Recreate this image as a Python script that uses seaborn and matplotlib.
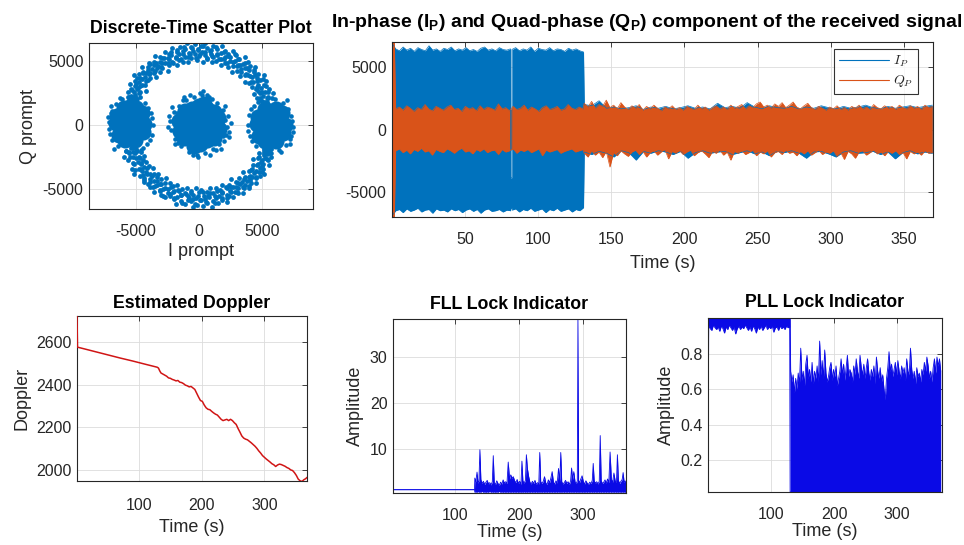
import numpy as np
import pandas as pd
import matplotlib
matplotlib.use("Agg")
import matplotlib.pyplot as plt
from matplotlib.lines import Line2D
from matplotlib.font_manager import FontProperties
import seaborn as sns

# ------------------------------------------------------------------ data
# Prompt correlator scatter: dense central cloud, two side clusters, ring
centre_core = [(0, 0), (650, 80), (-620, -60), (300, 600), (-340, 620), (310, -610), (-300, -640),
               (1250, 120), (-1250, -90), (1000, 780), (-980, 800), (980, -820), (-1000, -760),
               (600, 1200), (-600, 1220), (620, -1210), (-580, -1230), (0, 1500), (40, -1520),
               (1550, -300), (-1560, 330), (1500, 500), (-1480, -520), (1150, -1050), (-1150, 1050),
               (1150, 1020), (-1200, -1010), (350, 1650), (-400, -1640)]
centre_edge = [(2050, 400), (2200, -150), (1900, -900), (1600, -1500), (1100, -1900), (500, -2200),
               (-200, -2350), (-800, -2100), (-1400, -1700), (-1900, -1100), (-2200, -400), (-2300, 300),
               (-2000, 1000), (-1600, 1500), (-1000, 1950), (-400, 2200), (200, 2350), (800, 2150),
               (1400, 1700), (1850, 1150), (2300, 700), (2400, -600), (1300, -2000), (-1900, -1500),
               (300, 2650), (-2450, -200), (2500, 100), (-100, -2500), (1700, -1900), (-1200, 2150),
               (900, -2350), (-2150, 1400), (2050, 1500), (1750, 1050), (-700, 2300), (600, 2300),
               (-1650, -1450), (2150, -800), (-2350, 700), (1000, 2000), (-500, -2400), (1950, -1300),
               (-1300, 1900), (100, 2500), (-1750, 900), (2350, -1000)]
left_core = [(-5450, 50), (-4850, 350), (-6050, -250), (-5450, 800), (-5450, -700), (-4800, -550),
             (-6100, 700), (-4350, 50), (-6550, 100), (-5000, 1300), (-5900, 1300), (-5050, -1230),
             (-5870, -1210), (-4550, 950), (-6350, -830), (-4450, -600), (-6450, 650)]
left_edge = [(-7150, 200), (-7050, -700), (-6900, 1100), (-6600, 1600), (-6100, 2000), (-5500, 2200),
             (-4900, 2050), (-4300, 1700), (-3800, 900), (-3650, 0), (-3750, -800), (-4100, -1500),
             (-4600, -1950), (-5200, -2100), (-5800, -2050), (-6400, -1700), (-6850, -1200), (-7100, -300),
             (-7200, 600), (-6950, 1500), (-4000, 1300), (-3900, -1200), (-6700, -1900), (-5050, 2150),
             (-6250, 2100), (-4450, -1800), (-7000, 900), (-3700, 500)]
right_core = [(5650, 0), (6250, 300), (5050, -300), (5650, 750), (5650, -750), (6300, -600),
              (5000, 650), (6750, 0), (4550, 50), (6100, 1250), (5200, 1250), (6050, -1280),
              (5230, -1260), (6550, 900), (4750, -880), (6650, -650), (4650, 600)]
right_edge = [(7400, -200), (7300, 700), (7150, -1100), (6850, -1600), (6300, -2000), (5700, -2200),
              (5100, -2050), (4500, -1700), (4000, -900), (3850, 0), (3950, 800), (4300, 1500),
              (4800, 1950), (5400, 2100), (6000, 2050), (6600, 1700), (7050, 1200), (7350, 300),
              (7450, -600), (7200, -1500), (4200, -1300), (4100, 1200), (6950, 1900), (5250, -2150),
              (6450, -2100), (4650, 1800), (7250, -900), (3900, -500)]
# ring samples as (angle in degrees, radius)
ring_upper = [
    (18.4, 5650), (19.6, 6150), (20.9, 5300), (21.7, 5900), (22.8, 6350), (23.9, 5500), (24.6, 5050), (25.8, 5800), (26.9, 6200), (27.5, 5450),
    (28.7, 4950), (29.8, 6050), (30.6, 5700), (31.9, 5250), (32.8, 6300), (33.6, 5600), (34.9, 5100), (35.7, 5950), (36.8, 6450), (37.9, 5400),
    (38.6, 5850), (39.8, 5150), (40.7, 6150), (41.9, 5650), (42.6, 4900), (43.8, 6000), (44.9, 5500), (45.7, 6350), (46.8, 5300), (47.6, 5800),
    (48.9, 6100), (49.7, 5000), (50.8, 5700), (51.9, 6250), (52.7, 5450), (53.8, 5900), (54.6, 5150), (55.9, 6400), (56.8, 5600), (57.7, 4850),
    (58.9, 6050), (59.8, 5350), (60.6, 5750), (61.9, 6200), (62.7, 5050), (63.8, 5550), (64.9, 6350), (65.7, 5850), (66.8, 5250), (67.6, 6000),
    (68.9, 5650), (69.8, 4950), (70.7, 6150), (71.9, 5450), (72.8, 5900), (73.6, 6450), (74.9, 5200), (75.7, 5750), (76.8, 6100), (77.9, 5400),
    (78.7, 5000), (79.8, 6300), (80.6, 5600), (81.9, 5850), (82.7, 5150), (83.8, 6050), (84.9, 5500), (85.7, 6400), (86.8, 4900), (87.6, 5700),
    (88.9, 6200), (89.8, 5350), (90.7, 5950), (91.9, 5050), (92.8, 6350), (93.6, 5550), (94.9, 5800), (95.7, 6100), (96.8, 5250), (97.9, 5650),
    (98.7, 6450), (99.8, 4950), (100.6, 6000), (101.9, 5450), (102.7, 5900), (103.8, 6250), (104.9, 5100), (105.7, 5750), (106.8, 6150), (107.6, 5350),
    (108.9, 5600), (109.8, 6350), (110.7, 5000), (111.9, 5850), (112.8, 6050), (113.6, 5400), (114.9, 5700), (115.7, 6300), (116.8, 5200), (117.9, 5950),
    (118.7, 5550), (119.8, 6150), (120.6, 4900), (121.9, 5800), (122.7, 6400), (123.8, 5450), (124.9, 5650), (125.7, 6050), (126.8, 5150), (127.6, 5900),
    (128.9, 6250), (129.8, 5500), (130.7, 5750), (131.9, 6100), (132.8, 5050), (133.6, 5600), (134.9, 6350), (135.7, 5850), (136.8, 5300), (137.9, 6000),
    (138.7, 5700), (139.8, 6200), (140.6, 5400), (141.9, 5950), (142.7, 6450), (143.8, 5250), (144.9, 5800), (145.7, 6100), (146.8, 5550), (147.6, 5000),
    (148.9, 5900), (149.8, 6300), (150.7, 5650), (151.9, 5350), (152.8, 6050), (153.6, 5750), (154.9, 5200), (155.7, 6150), (156.8, 5500), (157.9, 5850),
    (158.7, 6000), (159.8, 5450), (160.6, 5700), (161.9, 5950),
    (19.1, 5500), (21.3, 5850), (23.2, 5250), (25.2, 6000), (27.0, 5600), (29.1, 5350), (31.2, 5950), (33.1, 5450), (35.3, 6150), (37.2, 5700),
    (39.1, 5300), (41.2, 5900), (43.3, 5550), (45.1, 6100), (47.2, 5400), (49.3, 5850), (51.2, 5250), (53.1, 6050), (55.2, 5700), (57.1, 5450),
    (59.3, 5950), (61.2, 5600), (63.1, 6200), (65.3, 5300), (67.2, 5800), (69.1, 5500), (71.3, 6050), (73.2, 5350), (75.1, 5650), (77.3, 6250),
    (79.2, 5450), (81.1, 5900), (83.3, 5300), (85.2, 5750), (87.1, 6150), (89.3, 5500), (91.2, 5850), (93.1, 5250), (95.3, 6050), (97.2, 5600),
    (99.1, 5400), (101.3, 6200), (103.2, 5650), (105.1, 5350), (107.3, 5950), (109.2, 5550), (111.1, 6100), (113.3, 5250), (115.2, 5800), (117.1, 5450),
    (119.3, 6000), (121.2, 5650), (123.1, 5300), (125.3, 5900), (127.2, 5550), (129.1, 6150), (131.3, 5400), (133.2, 5850), (135.1, 5600), (137.3, 6050),
    (139.2, 5350), (141.1, 5750), (143.3, 6100), (145.2, 5500), (147.1, 5900), (149.3, 5650), (151.2, 5300), (153.1, 5950), (155.3, 5600), (157.2, 5800),
    (159.1, 5550), (161.3, 5850)]
ring_lower = [
    (198.3, 5700), (199.5, 6100), (200.8, 5350), (201.6, 5950), (202.9, 6400), (203.7, 5500), (204.8, 5100), (205.9, 5850), (206.6, 6250), (207.8, 5400),
    (208.9, 5000), (209.7, 6000), (210.8, 5650), (211.6, 5250), (212.9, 6350), (213.8, 5550), (214.7, 5150), (215.9, 5900), (216.8, 6450), (217.6, 5450),
    (218.9, 5800), (219.7, 5100), (220.8, 6200), (221.9, 5600), (222.7, 4950), (223.6, 6050), (224.9, 5450), (225.8, 6300), (226.7, 5250), (227.9, 5750),
    (228.8, 6150), (229.6, 5050), (230.9, 5650), (231.7, 6200), (232.8, 5500), (233.9, 5950), (234.7, 5200), (235.8, 6400), (236.6, 5550), (237.9, 4900),
    (238.8, 6000), (239.7, 5300), (240.9, 5800), (241.6, 6250), (242.8, 5100), (243.9, 5600), (244.7, 6300), (245.8, 5900), (246.9, 5200), (247.7, 6050),
    (248.6, 5700), (249.8, 5000), (250.9, 6100), (251.7, 5400), (252.8, 5950), (253.6, 6500), (254.9, 5250), (255.8, 5700), (256.7, 6150), (257.9, 5450),
    (258.8, 5050), (259.6, 6350), (260.9, 5650), (261.7, 5800), (262.8, 5200), (263.9, 6000), (264.7, 5550), (265.6, 6450), (266.9, 4950), (267.8, 5750),
    (268.7, 6250), (269.9, 5300), (270.6, 5900), (271.8, 5100), (272.9, 6400), (273.7, 5600), (274.8, 5850), (275.6, 6150), (276.9, 5300), (277.8, 5700),
    (278.7, 6500), (279.9, 5000), (280.6, 6050), (281.8, 5500), (282.9, 5850), (283.7, 6300), (284.8, 5150), (285.6, 5800), (286.9, 6200), (287.8, 5400),
    (288.7, 5650), (289.9, 6400), (290.6, 5050), (291.8, 5900), (292.9, 6100), (293.7, 5450), (294.8, 5750), (295.6, 6250), (296.9, 5250), (297.8, 6000),
    (298.7, 5600), (299.9, 6200), (300.6, 4950), (301.8, 5850), (302.9, 6350), (303.7, 5500), (304.8, 5700), (305.6, 6100), (306.9, 5200), (307.8, 5950),
    (308.7, 6300), (309.9, 5550), (310.6, 5800), (311.8, 6150), (312.9, 5100), (313.7, 5650), (314.8, 6400), (315.6, 5900), (316.9, 5350), (317.8, 6050),
    (318.7, 5750), (319.9, 6250), (320.6, 5450), (321.8, 6000), (322.9, 6400), (323.7, 5300), (324.8, 5850), (325.6, 6150), (326.9, 5600), (327.8, 5050),
    (328.7, 5950), (329.9, 6350), (330.6, 5700), (331.8, 5400), (332.9, 6100), (333.7, 5800), (334.8, 5250), (335.6, 6200), (336.9, 5550), (337.8, 5900),
    (338.7, 6050), (339.9, 5500), (340.6, 5750), (341.8, 6000),
    (199.1, 5550), (201.2, 5900), (203.3, 5300), (205.1, 6050), (207.2, 5650), (209.3, 5400), (211.1, 6000), (213.2, 5500), (215.3, 6200), (217.1, 5750),
    (219.2, 5350), (221.3, 5950), (223.1, 5600), (225.2, 6150), (227.3, 5450), (229.1, 5900), (231.2, 5300), (233.3, 6100), (235.1, 5750), (237.2, 5500),
    (239.3, 6000), (241.1, 5650), (243.2, 6250), (245.3, 5350), (247.1, 5850), (249.2, 5550), (251.3, 6100), (253.1, 5400), (255.2, 5700), (257.3, 6300),
    (259.1, 5500), (261.2, 5950), (263.3, 5350), (265.1, 5800), (267.2, 6200), (269.3, 5550), (271.1, 5900), (273.2, 5300), (275.3, 6100), (277.1, 5650),
    (279.2, 5450), (281.3, 6250), (283.1, 5700), (285.2, 5400), (287.3, 6000), (289.1, 5600), (291.2, 6150), (293.3, 5300), (295.1, 5850), (297.2, 5500),
    (299.3, 6050), (301.1, 5700), (303.2, 5350), (305.3, 5950), (307.1, 5600), (309.2, 6200), (311.3, 5450), (313.1, 5900), (315.2, 5650), (317.3, 6100),
    (319.1, 5400), (321.2, 5800), (323.3, 6150), (325.1, 5550), (327.2, 5950), (329.3, 5700), (331.1, 5350), (333.2, 6000), (335.3, 5650), (337.1, 5850),
    (339.2, 5600), (341.3, 5900)]

# I_P / Q_P envelopes (upper, lower) of the prompt outputs over time
ip_start = [(6900, -6900), (6450, -6500), (6300, -6400), (6600, -6650), (6350, -6350), (6500, -6550), (6250, -6450),
            (6550, -6300), (6400, -6600), (6300, -6450), (6700, -6400), (6350, -6700), (6450, -6350), (6250, -6500),
            (6500, -6450), (6400, -6600), (6600, -6350), (6300, -6500), (6450, -6400), (6350, -6650), (6550, -6450),
            (6300, -6350), (6400, -6550), (6250, -6400), (6500, -6700), (6600, -6450), (6350, -6350), (6450, -6550),
            (6300, -6500), (6550, -6400), (6400, -6600), (6350, -6450), (6450, -6500)]
ip_dropout = [(-3860, -6300), (-3860, -6300)]
ip_resume = [(6400, -6450), (6550, -6350), (6300, -6600), (6450, -6400), (6350, -6500), (6600, -6300), (6250, -6550),
             (6500, -6450), (6400, -6350), (6350, -6650), (6550, -6400), (6300, -6500), (6450, -6300), (6400, -6550),
             (6250, -6450), (6500, -6350), (6350, -6600), (6450, -6400), (6300, -6500), (6200, -6250)]
ip_after = [(2000, -1800), (1900, -2000), (2300, -1750), (1700, -1900), (1800, -2200), (1650, -1700), (1750, -1850),
            (1900, -2450), (1600, -1750), (1800, -1900), (1700, -1700), (1850, -1800), (1650, -2000), (1750, -1750),
            (1900, -2300), (1700, -1850), (1800, -1700), (1650, -1900), (2100, -1800), (1750, -1750), (1850, -2000),
            (1700, -1850), (2150, -1700), (1800, -1950), (1650, -1800), (1900, -2100), (1750, -1750), (1700, -1850),
            (1850, -1700), (1650, -1900), (1800, -2300), (1700, -1800), (1900, -1750), (1750, -1950), (1650, -2200),
            (1850, -1800), (1700, -1700), (1800, -1900), (1950, -1850), (1750, -1750), (1650, -2000), (1850, -1800),
            (1700, -2350), (1800, -1850), (1900, -1700), (1750, -1950), (1850, -1800), (1950, -1900)]
qp_start = [(7000, -7000), (7000, -7000)]
qp_before = [(1650, -1700), (1800, -1550), (1550, -1850), (1900, -1650), (1700, -1950), (1450, -1600), (1750, -1750),
             (1600, -1500), (2000, -1800), (1650, -1700), (1500, -2050), (1850, -1600), (1700, -1750), (1550, -1850),
             (1800, -1550), (1950, -1700), (1600, -1900), (1700, -1650), (1450, -1500), (1850, -1800), (1650, -1700),
             (1750, -1950), (1500, -1600), (1900, -1750), (1600, -1550), (1800, -1850), (1700, -1700), (1550, -1650),
             (2050, -2000), (1650, -1600), (1750, -1800), (1500, -1700), (1850, -1550), (1600, -1900), (1700, -1650),
             (1950, -1750), (1550, -1600), (1800, -1850), (1650, -1700), (1450, -1550), (1750, -2100), (1900, -1650),
             (1600, -1800), (1700, -1700), (1850, -1600), (1550, -1900), (1650, -1750), (2000, -1650), (1700, -1550),
             (1600, -1800), (1800, -1700), (1650, -1600)]
qp_after = [(2100, -1900), (1800, -2200), (2250, -1700), (1700, -2050), (2000, -1800), (1850, -2250), (2350, -1750),
            (1750, -3000), (1950, -1850), (1650, -2100), (2150, -1700), (1800, -1950), (1600, -2150), (1900, -1800),
            (1700, -1650), (2000, -2000), (1550, -1750), (1850, -2200), (1650, -1850), (1950, -1700), (1700, -2050),
            (1500, -1800), (1800, -1600), (1650, -2350), (1900, -1750), (1600, -1900), (1750, -1700), (1550, -2000),
            (1850, -1800), (1700, -1650), (1600, -2100), (1950, -1850), (1650, -1700), (1800, -1950), (1550, -2250),
            (1750, -1750), (1900, -1900), (1650, -1650), (1800, -2050), (1600, -1800), (1950, -2450), (1700, -1750),
            (1850, -1900), (2000, -1700), (1650, -2000), (1900, -1850), (1750, -1650), (2050, -2100), (2200, -1800),
            (1800, -1950), (1950, -1700), (1700, -2200), (2050, -1850), (1850, -1750), (2150, -2000), (1750, -1650),
            (1950, -1900), (2200, -1800), (1800, -2100), (1650, -1750), (1900, -1950), (2100, -1700), (1750, -2050),
            (1600, -1850), (1850, -1650), (1700, -2000), (1550, -1800), (1800, -1900), (1650, -1700), (1900, -2150),
            (1600, -1850), (1750, -2400), (1550, -1750), (1850, -1950), (1700, -2300), (1950, -1800), (1650, -1700),
            (1800, -2050), (1600, -1850), (2000, -1650), (1750, -1950), (1650, -1800), (1900, -2100), (1700, -1750),
            (1850, -1900), (1600, -1700), (1950, -2000), (1750, -1850), (1650, -2350), (1900, -1750), (1700, -1950),
            (1850, -1800), (1600, -2050), (1950, -1700), (1750, -1900), (1850, -1850)]

# Carrier Doppler estimate (Hz) versus time (s)
doppler_t = [1.0, 1.8, 10, 30, 50, 70, 90, 110, 129, 131, 133, 135, 138, 141, 144, 147, 150, 153, 156, 159,
             162, 165, 168, 171, 174, 177, 180, 183, 186, 189, 192, 195, 198, 201, 204, 207, 210, 213, 216, 219,
             222, 225, 228, 231, 234, 237, 240, 243, 246, 249, 252, 255, 258, 261, 264, 267, 270, 273, 276, 279,
             282, 285, 288, 291, 294, 297, 300, 303, 306, 309, 312, 315, 318, 321, 324, 327, 330, 333, 336, 339,
             342, 345, 348, 351, 354, 357, 360, 363, 366, 368]
doppler_hz = [2722, 2576, 2570, 2555, 2540, 2525, 2511, 2496, 2482, 2478, 2465, 2455, 2450, 2445, 2440, 2432, 2430, 2425, 2422, 2418,
              2420, 2412, 2410, 2405, 2398, 2395, 2390, 2392, 2385, 2378, 2360, 2342, 2326, 2322, 2305, 2292, 2285, 2283, 2275, 2268,
              2262, 2258, 2248, 2238, 2232, 2235, 2238, 2232, 2238, 2232, 2222, 2214, 2195, 2178, 2160, 2150, 2145, 2142, 2135, 2128,
              2120, 2112, 2102, 2090, 2080, 2068, 2060, 2052, 2045, 2038, 2030, 2025, 2017, 2024, 2028, 2026, 2022, 2018, 2012, 2008,
              2001, 1998, 1988, 1975, 1958, 1950, 1947, 1955, 1960, 1966]

# FLL lock indicator: (time, lower, upper)
fll_env = [(1, 1.05, 1.05), (130, 1.05, 1.05), (130.5, 0.5, 3.6), (132, 0.6, 2.8), (134, 0.5, 4.9), (135.5, 0.7, 2.5),
           (137, 0.5, 3.0), (138.5, 0.6, 9.8), (140, 0.5, 3.3), (142, 0.7, 2.4), (144, 0.5, 2.9), (146, 0.6, 2.2),
           (148, 0.5, 2.7), (150, 0.6, 3.1), (152, 0.5, 2.3), (154, 0.7, 2.6), (156, 0.5, 2.1), (158, 0.6, 2.8),
           (159.5, 0.5, 8.5), (161, 0.6, 2.6), (163, 0.5, 2.2), (165, 0.6, 3.0), (167, 0.5, 2.4), (169, 0.7, 2.0),
           (171, 0.5, 2.7), (173, 0.6, 2.3), (175, 0.5, 3.2), (177, 0.6, 2.5), (179, 0.5, 2.8), (181, 0.6, 2.4),
           (183, 0.5, 7.1), (185, 0.6, 3.4), (187, 0.5, 4.3), (189, 0.6, 3.6), (191, 0.5, 3.9), (193, 0.6, 3.0),
           (195, 0.5, 2.6), (197, 0.6, 3.3), (199, 0.5, 2.4), (201, 0.6, 2.9), (203, 0.5, 2.2), (204.5, 0.6, 7.3),
           (206, 0.5, 3.0), (208, 0.6, 2.5), (210, 0.5, 3.1), (211.5, 0.6, 8.7), (213, 0.5, 5.8), (215, 0.6, 4.0),
           (217, 0.5, 2.7), (219, 0.6, 2.3), (221, 0.5, 2.9), (223, 0.6, 2.4), (225, 0.5, 3.1), (227, 0.6, 2.2),
           (229, 0.5, 2.6), (231, 0.6, 2.3), (232.5, 0.5, 9.2), (234, 0.6, 2.8), (236, 0.5, 2.4), (238, 0.6, 2.9),
           (240, 0.5, 3.9), (242, 0.6, 2.5), (244, 0.5, 2.2), (246, 0.6, 3.2), (248, 0.5, 2.6), (250, 0.6, 3.6),
           (252, 0.5, 5.0), (254, 0.6, 2.7), (256, 0.5, 2.3), (258, 0.6, 3.0), (260, 0.5, 2.5), (262, 0.6, 5.7),
           (264, 0.5, 2.9), (265.5, 0.6, 9.2), (267, 0.5, 2.8), (269, 0.6, 2.3), (271, 0.5, 2.6), (273, 0.6, 3.1),
           (275, 0.5, 2.4), (277, 0.6, 2.8), (279, 0.5, 2.2), (281, 0.6, 3.0), (282.5, 0.5, 5.8), (284, 0.6, 3.3),
           (286, 0.5, 5.0), (288, 0.6, 2.7), (290, 0.5, 2.4), (291.5, 0.6, 3.0), (292.5, 0.5, 38.4), (293.5, 0.6, 3.1),
           (295, 0.5, 2.6), (297, 0.6, 3.4), (299, 0.5, 4.1), (301, 0.6, 2.8), (303, 0.5, 2.3), (305, 0.6, 3.0),
           (307, 0.5, 2.5), (309, 0.6, 2.2), (311, 0.5, 2.7), (313, 0.6, 2.4), (315, 0.5, 3.1), (316.5, 0.6, 6.8),
           (318, 0.5, 3.0), (320, 0.6, 2.5), (322, 0.5, 2.8), (324, 0.6, 2.3), (326, 0.5, 2.9), (327.5, 0.6, 12.9),
           (329, 0.5, 3.0), (331, 0.6, 2.4), (333, 0.5, 2.7), (335, 0.6, 3.2), (337, 0.5, 2.5), (339, 0.6, 3.4),
           (341, 0.5, 2.6), (343, 0.6, 9.3), (345, 0.5, 3.3), (347, 0.6, 2.7), (349, 0.5, 4.7), (351, 0.6, 3.0),
           (353, 0.5, 2.6), (354.5, 0.6, 8.7), (356, 0.5, 3.1), (358, 0.6, 2.4), (360, 0.5, 2.9), (362, 0.6, 3.3),
           (363.5, 0.5, 4.8), (365, 0.6, 2.7), (366.5, 0.5, 3.0), (368, 0.6, 2.5)]

# PLL lock indicator: locked band (lower edge, top at 1.0) then the noisy phase after 130 s
pll_lock_top = 1.0
pll_floor = 0.02
pll_locked_low = [0.955, 0.94, 0.93, 0.96, 0.945, 0.935, 0.95, 0.925, 0.955, 0.94, 0.915, 0.95, 0.935,
                  0.96, 0.945, 0.93, 0.95, 0.91, 0.94, 0.955, 0.935, 0.95, 0.94, 0.96, 0.945, 0.93,
                  0.95, 0.925, 0.955, 0.94, 0.915, 0.95, 0.935, 0.955, 0.93, 0.945, 0.96, 0.935, 0.95,
                  0.94, 0.955, 0.92, 0.945, 0.95, 0.93, 0.955, 0.94, 0.95, 0.935, 0.955, 0.945, 0.95]
pll_unlocked_high = [0.70, 0.64, 0.68, 0.58, 0.66, 0.60, 0.69, 0.63, 0.83, 0.65, 0.70, 0.62, 0.74, 0.79, 0.66,
                     0.71, 0.64, 0.75, 0.63, 0.70, 0.66, 0.73, 0.64, 0.87, 0.68, 0.76, 0.66, 0.82, 0.69, 0.64,
                     0.67, 0.72, 0.75, 0.65, 0.71, 0.67, 0.73, 0.62, 0.66, 0.70, 0.77, 0.68, 0.74, 0.65, 0.72,
                     0.79, 0.67, 0.71, 0.69, 0.64, 0.73, 0.68, 0.77, 0.70, 0.66, 0.79, 0.72, 0.68, 0.74, 0.66,
                     0.72, 0.77, 0.69, 0.65, 0.71, 0.67, 0.73, 0.63, 0.78, 0.70, 0.66, 0.72, 0.64, 0.68, 0.60,
                     0.54, 0.66, 0.72, 0.81, 0.70, 0.74, 0.67, 0.71, 0.75, 0.68, 0.76, 0.70, 0.66, 0.73, 0.69,
                     0.72, 0.65, 0.77, 0.70, 0.68, 0.83, 0.71, 0.66, 0.70, 0.63, 0.72, 0.67, 0.69, 0.64, 0.71,
                     0.68, 0.75, 0.70, 0.78, 0.73, 0.66, 0.70, 0.64, 0.72, 0.77, 0.69, 0.78, 0.73, 0.77, 0.70]

# ------------------------------------------------------------------ style
sns.set_style("white")
plt.rcParams.update({
    "mathtext.fontset": "custom",
    "mathtext.rm": "Liberation Sans",
    "mathtext.it": "Liberation Sans:italic",
    "mathtext.bf": "Liberation Sans:bold",
    "axes.unicode_minus": False,
})
plt.rcParams["font.family"] = ["Liberation Sans", "DejaVu Sans"]

TICK, LABEL, TITLE = 11.5, 13, 12.8
XPAD, XLABELPAD = 12.5, 4
INK = "#262626"
BLUE, ORANGE = "#0072BD", "#D95319"
PURE_BLUE = "#0A0AE6"

W, H = 964, 545
fig = plt.figure(figsize=(W / 100, H / 100), dpi=100)
fig.patch.set_facecolor("white")


def panel(l, t, r, b):
    ax = fig.add_axes([l / W, 1 - b / H, (r - l) / W, (b - t) / H])
    ax.set_facecolor("white")
    ax.grid(True, color="#dcdcdc", lw=0.6)
    ax.set_axisbelow(True)
    ax.tick_params(direction="in", length=3.5, width=0.6, top=True, right=True,
                   labelsize=TICK, colors=INK)
    ax.tick_params(axis="x", pad=XPAD)
    ax.tick_params(axis="y", pad=4)
    for s in ax.spines.values():
        s.set_visible(True)
        s.set_color(INK)
        s.set_linewidth(0.8)
    return ax


def title(ax, text, pad=6, size=TITLE, x=0.5):
    ax.set_title(text, fontsize=size, fontweight="bold", color="black", pad=pad)
    ax.title.set_x(x)


def band(ax, t, lo, hi, color, lw=0.6):
    ax.fill_between(t, lo, hi, color=color, lw=0)
    frame = pd.DataFrame({"t": t, "lo": lo, "hi": hi})
    for col in ("lo", "hi"):
        sns.lineplot(data=frame, x="t", y=col, color=color, lw=lw, ax=ax,
                     estimator=None, sort=False)


# ---- scatter of prompt correlator outputs
ax = panel(89, 43, 313, 209)
ring = np.array(ring_upper + ring_lower, dtype=float)
ring_i = ring[:, 1] * np.cos(np.radians(ring[:, 0]))
ring_q = ring[:, 1] * np.sin(np.radians(ring[:, 0]))
sparse = np.array(centre_edge + left_edge + right_edge, dtype=float)
dense = np.array(centre_core + left_core + right_core, dtype=float)
sns.scatterplot(x=ring_i, y=ring_q, s=12, color=BLUE, linewidth=0, ax=ax)
sns.scatterplot(x=sparse[:, 0], y=sparse[:, 1], s=11, color=BLUE, linewidth=0, ax=ax)
sns.scatterplot(x=dense[:, 0], y=dense[:, 1], s=135, color=BLUE, linewidth=0, ax=ax)
ax.set_xlim(-8700, 9000)
ax.set_ylim(-6600, 6400)
ax.set_xticks([-5000, 0, 5000])
ax.set_yticks([-5000, 0, 5000])
ax.tick_params(axis="x", pad=XPAD - 2)
ax.set_xlabel("I prompt", fontsize=LABEL, color=INK, labelpad=XLABELPAD - 1)
ax.set_ylabel("Q prompt", fontsize=LABEL, color=INK)
title(ax, "Discrete-Time Scatter Plot", pad=7)

# ---- I_P and Q_P versus time
ax = panel(392, 42, 933, 217)
ip_t = np.concatenate([np.linspace(0, 81.0, len(ip_start)), [81.1, 81.9],
                       np.linspace(82.0, 131.0, len(ip_resume)),
                       np.linspace(131.5, 369.5, len(ip_after))])
ip = np.array(ip_start + ip_dropout + ip_resume + ip_after, dtype=float)
qp_t = np.concatenate([[0.0, 1.6], np.linspace(2.5, 130.5, len(qp_before)),
                       np.linspace(131.5, 369.5, len(qp_after))])
qp = np.array(qp_start + qp_before + qp_after, dtype=float)
band(ax, ip_t, ip[:, 1], ip[:, 0], BLUE, lw=0.5)
band(ax, qp_t, qp[:, 1], qp[:, 0], ORANGE, lw=0.5)
ax.set_xlim(0, 370)
ax.set_ylim(-7000, 7000)
ax.set_xticks([50, 100, 150, 200, 250, 300, 350])
ax.set_yticks([-5000, 0, 5000])
ax.tick_params(axis="x", pad=XPAD - 2)
ax.set_xlabel("Time (s)", fontsize=LABEL, color=INK, labelpad=XLABELPAD + 2)
ax.set_ylabel("")
title(ax, r"In-phase ($\mathbf{I_P}$) and Quad-phase ($\mathbf{Q_P}$) component of the received signal",
      pad=11, size=14, x=0.471)
handles = [Line2D([], [], color=BLUE, lw=0.8), Line2D([], [], color=ORANGE, lw=0.8)]
leg = ax.legend(handles, [r"$I_P$", r"$Q_P$"], loc="upper right",
                bbox_to_anchor=(0.972, 0.96), borderaxespad=0, frameon=True, fancybox=False,
                handlelength=3.6, handletextpad=0.3, borderpad=0.35, labelspacing=0.3,
                prop=FontProperties(size=10, math_fontfamily="cm"))
leg.get_frame().set_edgecolor("black")
leg.get_frame().set_linewidth(0.8)

# ---- Doppler estimate
ax = panel(77, 316, 307, 481)
sns.lineplot(x=doppler_t, y=doppler_hz, color="#D01515", lw=1.1, ax=ax,
             estimator=None, sort=False, zorder=3)
ax.set_xlim(1, 368)
ax.set_ylim(1949, 2722)
ax.set_xticks([100, 200, 300])
ax.set_yticks([2000, 2200, 2400, 2600])
ax.set_xlabel("Time (s)", fontsize=LABEL, color=INK, labelpad=XLABELPAD)
ax.set_ylabel("Doppler", fontsize=LABEL, color=INK)
title(ax, "Estimated Doppler", pad=6)

# ---- FLL lock indicator
ax = panel(393, 319, 626, 493)
fll = np.array(fll_env, dtype=float)
band(ax, fll[:, 0], fll[:, 1], fll[:, 2], PURE_BLUE, lw=0.6)
ax.set_xlim(2, 368)
ax.set_ylim(0.33, 38.4)
ax.set_xticks([100, 200, 300])
ax.set_yticks([10, 20, 30])
ax.tick_params(axis="x", pad=XPAD - 2)
ax.set_xlabel("Time (s)", fontsize=LABEL, color=INK, labelpad=1)
ax.set_ylabel("Amplitude", fontsize=LABEL, color=INK)
title(ax, "FLL Lock Indicator", pad=7)

# ---- PLL lock indicator
ax = panel(708, 318, 942, 492)
n_lock = len(pll_locked_low)
n_free = len(pll_unlocked_high)
pll_t = np.concatenate([[0.0], np.linspace(1.0, 129.5, n_lock), [130.2],
                        np.linspace(131.0, 369.0, n_free)])
pll_lo = np.concatenate([[pll_floor], pll_locked_low, [pll_floor], np.full(n_free, pll_floor)])
pll_hi = np.concatenate([[pll_lock_top], np.full(n_lock, pll_lock_top), [pll_lock_top], pll_unlocked_high])
band(ax, pll_t, pll_lo, pll_hi, PURE_BLUE, lw=0.6)
ax.set_xlim(0, 371)
ax.set_ylim(0.02, 1.0)
ax.set_xticks([100, 200, 300])
ax.set_yticks([0.2, 0.4, 0.6, 0.8])
ax.tick_params(axis="x", pad=XPAD - 2)
ax.set_xlabel("Time (s)", fontsize=LABEL, color=INK, labelpad=1)
ax.set_ylabel("Amplitude", fontsize=LABEL, color=INK)
title(ax, "PLL Lock Indicator", pad=8)

fig.savefig("out.png", dpi=100, facecolor="white")
